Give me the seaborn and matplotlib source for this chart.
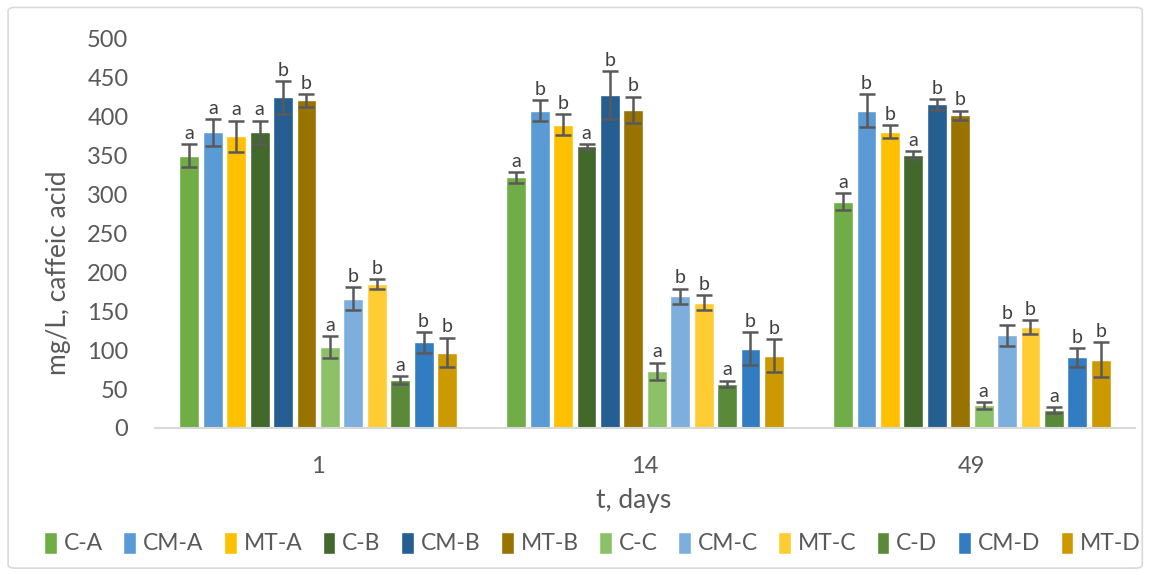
import pandas as pd
import seaborn as sns
import matplotlib.pyplot as plt
from matplotlib.patches import FancyBboxPatch

days = ["1", "14", "49"]
samples = ["C-A", "CM-A", "MT-A", "C-B", "CM-B", "MT-B",
           "C-C", "CM-C", "MT-C", "C-D", "CM-D", "MT-D"]
colors = ["#70AD47", "#5B9BD5", "#FFC000", "#43682B", "#255E91", "#997300",
          "#8CC168", "#7CAFDD", "#FFCD33", "#5A8A39", "#327DC2", "#CC9A00"]

# mean values per day, in sample order
day1 = [350, 380, 375, 380, 425, 421, 104, 166, 185, 62, 110, 97]
day14 = [322, 408, 390, 362, 428, 409, 73, 169, 161, 57, 102, 93]
day49 = [291, 408, 381, 351, 416, 402, 29, 119, 130, 23, 91, 88]

err1 = [15, 17, 20, 15, 21, 8, 14, 15, 6, 5, 13, 19]
err14 = [7, 13, 13, 3, 31, 17, 11, 10, 10, 4, 21, 21]
err49 = [11, 21, 8, 5, 7, 6, 4, 14, 9, 4, 12, 22]

let1 = ["a", "a", "a", "a", "b", "b", "a", "b", "b", "a", "b", "b"]
let14 = ["a", "b", "b", "a", "b", "b", "a", "b", "b", "a", "b", "b"]
let49 = ["a", "b", "b", "a", "b", "b", "a", "b", "b", "a", "b", "b"]

rows = []
for d, vals, errs, lets in zip(days, [day1, day14, day49], [err1, err14, err49], [let1, let14, let49]):
    for s, v, e, l in zip(samples, vals, errs, lets):
        rows.append({"Day": d, "Sample": s, "Value": v, "Err": e, "Letter": l})
df = pd.DataFrame(rows)

sns.set_style("white")
plt.rcParams['font.family'] = ['Lato', 'DejaVu Sans']
txt = "#595959"

fig = plt.figure(figsize=(11.55, 5.75), dpi=100)
ax = fig.add_axes([0.134, 0.2557, 0.849, 0.6765])

sns.barplot(data=df, x="Day", y="Value", hue="Sample", hue_order=samples,
            palette=colors, saturation=1, errorbar=None, width=0.86, gap=0.15,
            legend=True, ax=ax)

# error bars and letters on top of each bar
for cont, s in zip(ax.containers, samples):
    sub = df[df.Sample == s]
    for bar, (_, r) in zip(cont, sub.iterrows()):
        xc = bar.get_x() + bar.get_width() / 2
        ax.errorbar(xc, r.Value, yerr=r.Err, color="#595959", capsize=5.5,
                    elinewidth=1.8, capthick=1.8, fmt="none", zorder=3)
        ax.text(xc, r.Value + r.Err + 3, r.Letter, ha="center", va="bottom",
                fontsize=14, color="#404040")

ax.set_ylim(0, 500)
ax.set_yticks(range(0, 501, 50))
ax.set_xlim(-0.5, 2.5)
ax.set_xlabel("t, days", fontsize=19, color=txt)
ax.set_ylabel("mg/L, caffeic acid", fontsize=19, color=txt)
ax.xaxis.set_label_coords(0.488, -0.155)
ax.yaxis.set_label_coords(-0.085, 0.40)
ax.tick_params(axis="x", length=0, pad=20, labelsize=17, labelcolor=txt)
ax.tick_params(axis="y", length=0, pad=19, labelsize=17, labelcolor=txt)
for sp in ["top", "right", "left"]:
    ax.spines[sp].set_visible(False)
ax.spines["bottom"].set_color("#d9d9d9")
ax.spines["bottom"].set_linewidth(1.5)

handles, labels = ax.get_legend_handles_labels()
ax.get_legend().remove()
fig.legend(handles, labels, ncol=12, loc="center", bbox_to_anchor=(0.513, 1 - 543 / 575),
           frameon=False, handlelength=0.55, handleheight=1.1, handletextpad=0.3,
           columnspacing=0.9, fontsize=16.5, labelcolor=txt)

border = FancyBboxPatch((0.007, 0.012), 0.982, 0.975, boxstyle="round,pad=0,rounding_size=0.006",
                        transform=fig.transFigure, fill=False, edgecolor="#d9d9d9", linewidth=1.2)
fig.patches.append(border)

fig.savefig("out.png", dpi=100)
